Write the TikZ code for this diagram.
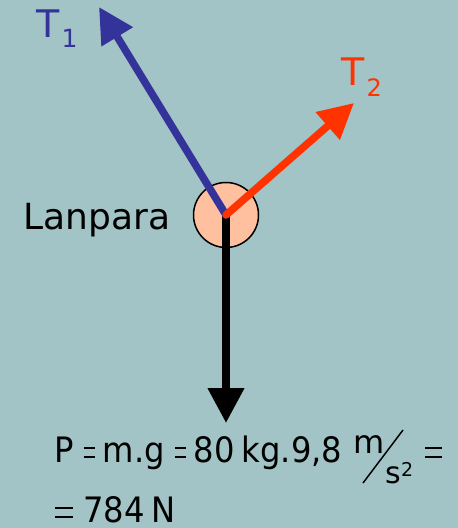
\documentclass[tikz,border=0pt]{standalone}
\usepackage{fontspec}
\setmainfont{DejaVu Sans}
\newfontfamily\formfont[FakeStretch=0.92]{DejaVu Sans}
\usepackage{tikz}
\usetikzlibrary{arrows.meta,positioning}
\definecolor{fondo}{RGB}{163,196,198}
\definecolor{tblue}{RGB}{51,51,153}
\definecolor{tred}{RGB}{255,51,0}
\definecolor{lampfill}{RGB}{255,192,160}
% signo igual fino
\newcommand\eqbar[1]{\rlap{\rule[2.2pt]{#1}{0.7pt}}\rule[6.6pt]{#1}{0.7pt}}
\newcommand\ieq{\hspace{5pt}\eqbar{5.5pt}\hspace{4pt}}

\begin{document}
\begin{tikzpicture}[x=0.5pt,y=-0.5pt,
	force/.style={line width=3.75pt,-{Triangle[length=17.5pt,width=17.5pt]}},
	lbl/.style={anchor=base west,inner sep=0pt}]
	\fill[fondo] (0,0) rectangle (458,528);
	\useasboundingbox (0,0) rectangle (458,528);
	\node[circle,draw=black,line width=0.75pt,fill=lampfill,
	minimum size=32.5pt,inner sep=0pt] (lamp) at (226,215){};
	\coordinate (t1) at (99,7);
	\coordinate (t2) at (354,103);
	\coordinate (p) at (226,423);
	\draw[force,black] (lamp.center) -- (p);
	\draw[force,tblue,line cap=round] (lamp.center) -- (t1);
	\draw[force,tred,line cap=round] (lamp.center) -- (t2);
	% etiquetas
	\node[lbl,tblue,font=\fontsize{19}{19}\selectfont] (lt1) at (36,38)
	{T\kern1pt\raisebox{-5pt}{\fontsize{12.5}{12.5}\selectfont 1}};
	\node[lbl,tred,font=\fontsize{19}{19}\selectfont] (lt2) at (341,86)
	{T\kern1pt\raisebox{-5.5pt}{\fontsize{12}{12}\selectfont 2}};
	\node[lbl,font=\fontsize{18}{18}\selectfont] (lname) at (23,230){Lanpara};
	% formula
	\node[lbl,font=\formfont\fontsize{17.5}{17.5}\selectfont] (peso) at (54,462)
	{P\ieq m.g\ieq 80\hspace{3.5pt}kg.9,8};
	\node[lbl,font=\fontsize{16}{16}\selectfont] (um) at (353,453){m};
	\node[lbl,font=\fontsize{15}{15}\selectfont] (us) at (385,483)
	{s\raisebox{3.5pt}{\fontsize{9.5}{9.5}\selectfont 2}};
	\draw[line width=0.75pt] (363,483) -- (403,430);
	\node[lbl] (eqa) at (425,462){\eqbar{8.5pt}};
	\node[lbl,font=\formfont\fontsize{17.5}{17.5}\selectfont] (total) at (55,522)
	{\eqbar{9pt}\hspace{5pt}784\hspace{3.5pt}N};
\end{tikzpicture}
\end{document}
